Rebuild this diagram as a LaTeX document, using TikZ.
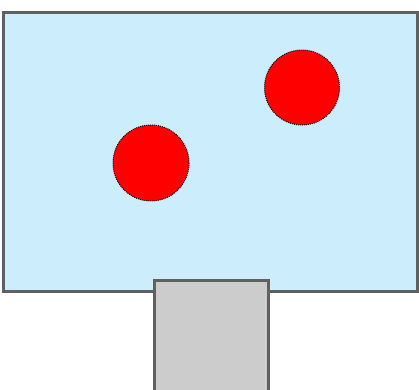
\documentclass[tikz,border=0pt]{standalone}
\usepackage{tikz}

\definecolor{waterblue}{RGB}{204,237,252}
\definecolor{edgegray}{RGB}{96,96,96}
\definecolor{stemgray}{RGB}{204,204,204}

\begin{document}
\begin{tikzpicture}[
    x=1pt, y=-1pt,
    boxshape/.style={draw=edgegray, line width=3pt},
    blob/.style={fill=red, draw=black, dash pattern=on 1pt off 1pt, line width=1pt}
    ]
    \clip (0,0) rectangle (419,389);
    \useasboundingbox (0,0) rectangle (419,389);

    %Tank
    \draw[boxshape, fill=waterblue] (3.5,12) rectangle (417.5,291.5);

    %Blobs
    \draw[blob] (151,163) circle (38);
    \draw[blob] (302,87.5) circle (37.5);

    %Stem
    \draw[boxshape, fill=stemgray] (154.5,400) -- (154.5,280) -- (268,280) -- (268,400);

\end{tikzpicture}
\end{document}
